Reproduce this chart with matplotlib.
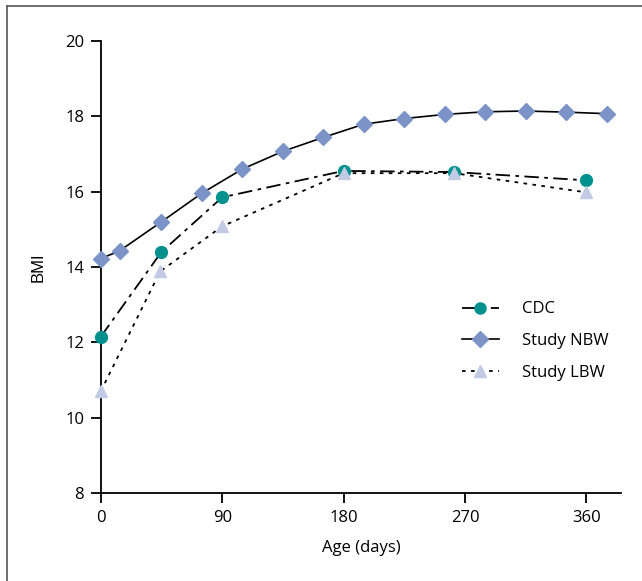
import matplotlib
matplotlib.use("Agg")
import matplotlib.pyplot as plt
from matplotlib.lines import Line2D

matplotlib.rcParams.update({'font.size': 12, 'font.family': ['Open Sans', 'DejaVu Sans']})

# CDC reference
cdc_days = [0, 45, 90, 180, 262, 360]
cdc_bmi = [12.15, 14.40, 15.85, 16.55, 16.52, 16.30]

# study, normal birth weight
nbw_days = [0, 14, 45, 75, 105, 135, 165, 195, 225, 255, 285, 315, 345, 375]
nbw_bmi = [14.22, 14.43, 15.20, 15.96, 16.60, 17.07, 17.44, 17.79, 17.94, 18.05, 18.12, 18.14, 18.11, 18.07]

# study, low birth weight
lbw_days = [0, 44, 90, 180, 262, 360]
lbw_bmi = [10.70, 13.88, 15.08, 16.49, 16.49, 15.98]

x_ticks = [0, 90, 180, 270, 360]
y_ticks = [8, 10, 12, 14, 16, 18, 20]

TEAL = "#00918f"
DIAMOND = "#7b93c7"
TRIANGLE = "#c3cae4"


def main():
    fig = plt.figure(figsize=(6.42, 5.81), dpi=100)
    ax = fig.add_axes([0.157, 0.1515, 0.811, 0.778])

    ax.plot(nbw_days, nbw_bmi, color="black", lw=1.2, zorder=2)
    ax.plot(nbw_days, nbw_bmi, ls="none", marker="D", ms=8, color=DIAMOND, zorder=3, clip_on=False)

    ax.plot(lbw_days, lbw_bmi, color="black", lw=1.3, ls=(0, (2, 3)), zorder=2)
    ax.plot(lbw_days, lbw_bmi, ls="none", marker="^", ms=8.5, color=TRIANGLE, zorder=4, clip_on=False)

    ax.plot(cdc_days, cdc_bmi, color="black", lw=1.3, ls=(0, (8, 3, 2, 3)), zorder=2)
    ax.plot(cdc_days, cdc_bmi, ls="none", marker="o", ms=8.5, color=TEAL, zorder=3, clip_on=False)

    ax.set_xlim(0, 386)
    ax.set_ylim(8, 20)
    ax.set_xticks(x_ticks)
    ax.set_yticks(y_ticks)
    for side in ("top", "right"):
        ax.spines[side].set_visible(False)
    for side in ("left", "bottom"):
        ax.spines[side].set_linewidth(1.3)
    ax.tick_params(direction="out", length=7, width=1.3, pad=5, labelsize=12)

    ax.set_xlabel("Age (days)", fontsize=12, labelpad=10)
    ax.set_ylabel("BMI", fontsize=12, family="Liberation Sans", labelpad=14)

    handles = [
        Line2D([], [], color="black", lw=1.3, ls=(0, (8, 3, 2, 3)), marker="o", ms=8, mfc=TEAL, mec=TEAL),
        Line2D([], [], color="black", lw=1.2, marker="D", ms=8, mfc=DIAMOND, mec=DIAMOND),
        Line2D([], [], color="black", lw=1.3, ls=(0, (2, 3)), marker="^", ms=8, mfc=TRIANGLE, mec=TRIANGLE),
    ]
    ax.legend(handles, ["CDC", "Study NBW", "Study LBW"], loc="upper left",
              bbox_to_anchor=(0.665, 0.457), frameon=False, fontsize=12,
              handlelength=2.2, handletextpad=1.4, labelspacing=0.95)

    # thin frame on the top and left of the figure
    fig.add_artist(Line2D([7 / 642, 1], [1 - 6 / 581, 1 - 6 / 581], transform=fig.transFigure,
                          color="#555555", lw=1.2))
    fig.add_artist(Line2D([7 / 642, 7 / 642], [0, 1 - 6 / 581], transform=fig.transFigure,
                          color="#555555", lw=1.2))

    plt.savefig("out.png", dpi=100)


if __name__ == "__main__":
    main()
